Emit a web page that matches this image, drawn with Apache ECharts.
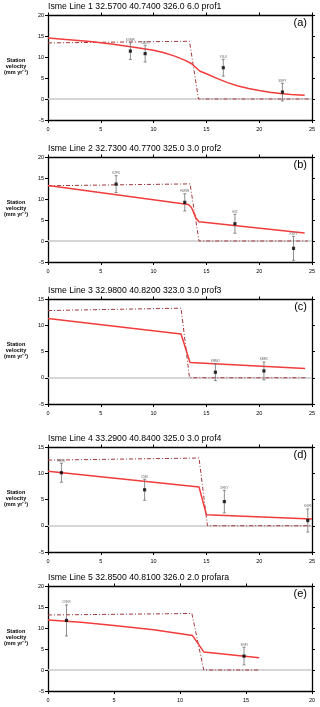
<!DOCTYPE html>
<html><head><meta charset="utf-8">
<script src="https://cdn.jsdelivr.net/npm/echarts@6/dist/echarts.min.js"></script>
<style>html,body{margin:0;padding:0;background:#fff}#c{width:320px;height:707px}</style>
</head><body><div id="c"></div>
<script>
// ---- data ----
const titles = [
  'Isme Line 1 32.5700 40.7400 326.0 6.0 prof1',
  'Isme Line 2 32.7300 40.7700 325.0 3.0 prof2',
  'Isme Line 3 32.9800 40.8200 323.0 3.0 prof3',
  'Isme Line 4 33.2900 40.8400 325.0 3.0 prof4',
  'Isme Line 5 32.8500 40.8100 326.0 2.0 profara'
];
const panelTags = ['(a)', '(b)', '(c)', '(d)', '(e)'];
const xMax = [25, 25, 25, 25, 20];
const yMin = [-5, -5, -5, -5, -5];
const yMax = [20, 20, 15, 15, 20];
const tickStep = 5;

const staName = [
  ['KSMR', 'CMKO', 'YSLK', 'SNPY'],
  ['KZPK', 'HMSR', 'IKIZ', 'KSKY'],
  ['KRMO', 'KBRC'],
  ['HMRL', 'CNKI', 'ORKY', 'KGRI'],
  ['CNKR', 'SNPI']
];
const staX = [
  [7.8, 9.2, 16.6, 22.2],
  [6.45, 12.95, 17.7, 23.25],
  [15.85, 20.45],
  [1.27, 9.15, 16.7, 24.6],
  [1.4, 14.85]
];
const staV = [
  [11.4, 10.8, 7.45, 1.65],
  [13.55, 9.2, 4.1, -1.75],
  [1.05, 1.3],
  [10.1, 6.85, 4.6, 1.0],
  [11.8, 3.3]
];
const staErr = [
  [2.0, 2.0, 2.0, 2.1],
  [2.0, 2.05, 2.25, 2.85],
  [1.6, 1.7],
  [1.8, 2.0, 2.15, 2.2],
  [3.7, 2.1]
];
const modelX = [
  [0, 2, 4, 6, 8, 10, 11, 12, 13, 13.6, 14.0, 14.4, 15, 16, 17, 18, 19, 20, 21, 22, 23, 24.3],
  [0, 13.3, 13.6, 14.0, 14.3, 24.3],
  [0, 12.6, 13.45, 24.35],
  [0, 14.3, 15.0, 25],
  [0, 2.5, 5, 8, 10.95, 11.8, 16]
];
const modelV = [
  [14.5, 14.1, 13.7, 13.1, 12.4, 11.6, 11.0, 10.2, 9.2, 8.4, 7.5, 6.6, 6.0, 4.9, 3.9, 3.1, 2.5, 2.0, 1.6, 1.3, 1.1, 0.9],
  [13.2, 8.7, 7.9, 5.5, 4.6, 1.9],
  [11.3, 8.35, 2.9, 1.75],
  [10.4, 7.4, 2.1, 1.3],
  [11.9, 11.35, 10.6, 9.6, 8.2, 4.3, 2.9]
];
const stepX = [
  [0, 13.4, 14.25, 24.7],
  [0, 13.45, 14.3, 24.6],
  [0, 12.6, 13.4, 24.5],
  [0, 14.3, 15.1, 25],
  [0, 10.9, 11.8, 16]
];
const stepV = [
  [13.35, 13.75, 0, 0],
  [13.15, 13.6, 0, 0],
  [12.8, 13.25, 0, 0],
  [12.5, 12.9, 0, 0],
  [13.1, 13.45, 0, 0]
];

// ---- layout ----
const gridTop = [15, 157, 299, 447, 586];
const gridH = 105;
const FONT = '"Liberation Sans", Arial, sans-serif';

const zip = (a, b) => a.map((v, i) => [v, b[i]]);

const option = {
  animation: false,
  backgroundColor: '#fff',
  grid: [], xAxis: [], yAxis: [], series: [], title: [], graphic: []
};

for (let p = 0; p < 5; p++) {
  const top = gridTop[p];
  option.grid.push({left: 48, right: 8, top: top, height: gridH, containLabel: false});
  const axLine = {show: true, onZero: false, lineStyle: {color: '#000', width: 1.3}};
  option.xAxis.push({
    type: 'value', gridIndex: p, position: 'bottom', min: 0, max: xMax[p], interval: tickStep,
    axisLine: axLine, axisTick: {show: true, inside: false, length: 3, lineStyle: {color: '#000'}},
    axisLabel: {show: true, margin: 6, fontSize: 5.5, color: '#000', fontFamily: FONT},
    splitLine: {show: false}
  });
  option.xAxis.push({
    type: 'value', gridIndex: p, position: 'top', min: 0, max: xMax[p], interval: tickStep,
    axisLine: axLine, axisTick: {show: true, inside: false, length: 2.5, lineStyle: {color: '#000'}},
    axisLabel: {show: false}, splitLine: {show: false}
  });
  option.yAxis.push({
    type: 'value', gridIndex: p, position: 'left', min: yMin[p], max: yMax[p], interval: tickStep,
    axisLine: axLine, axisTick: {show: true, inside: false, length: 3, lineStyle: {color: '#000'}},
    axisLabel: {show: true, margin: 4, fontSize: 5.5, color: '#000', fontFamily: FONT},
    splitLine: {show: false}
  });
  option.yAxis.push({
    type: 'value', gridIndex: p, position: 'right', min: yMin[p], max: yMax[p], interval: tickStep,
    axisLine: axLine, axisTick: {show: true, inside: false, length: 3, lineStyle: {color: '#000'}},
    axisLabel: {show: false}, splitLine: {show: false}
  });

  const xi = 2 * p, yi = 2 * p;
  // zero reference line
  option.series.push({
    type: 'line', xAxisIndex: xi, yAxisIndex: yi, data: [], z: 1, silent: true,
    markLine: {
      silent: true, symbol: ['none', 'none'], label: {show: false}, z: 1,
      lineStyle: {color: '#c8c8c8', width: 1.5, type: 'solid'},
      data: [{yAxis: 0}]
    }
  });
  // step (dash-dot) model
  option.series.push({
    type: 'line', xAxisIndex: xi, yAxisIndex: yi, z: 3, silent: true,
    data: zip(stepX[p], stepV[p]), showSymbol: false, symbol: 'none',
    lineStyle: {color: '#a3393c', width: 1, type: [4, 2, 1, 2]}
  });
  // red model curve
  option.series.push({
    type: 'line', xAxisIndex: xi, yAxisIndex: yi, z: 4, silent: true,
    data: zip(modelX[p], modelV[p]), showSymbol: false, symbol: 'none', smooth: false,
    lineStyle: {color: '#f23c3c', width: 1.5}
  });
  // error bars + station names
  const names = staName[p];
  option.series.push({
    type: 'custom', xAxisIndex: xi, yAxisIndex: yi, z: 5, silent: true,
    data: staX[p].map((x, i) => [x, staV[p][i], staErr[p][i]]),
    renderItem: (params, api) => {
      const x = api.value(0), v = api.value(1), e = api.value(2);
      const t = api.coord([x, v + e]), b = api.coord([x, v - e]);
      const cw = 1.5, st = {stroke: '#6e6e6e', lineWidth: 0.8};
      return {type: 'group', children: [
        {type: 'line', shape: {x1: t[0], y1: t[1], x2: b[0], y2: b[1]}, style: st},
        {type: 'line', shape: {x1: t[0] - cw, y1: t[1], x2: t[0] + cw, y2: t[1]}, style: st},
        {type: 'line', shape: {x1: b[0] - cw, y1: b[1], x2: b[0] + cw, y2: b[1]}, style: st},
        {type: 'text', style: {text: names[params.dataIndex], x: t[0], y: t[1] - 1,
          align: 'center', verticalAlign: 'bottom', textAlign: 'center', textVerticalAlign: 'bottom',
          fontSize: 3, fontFamily: FONT, fill: '#666'}}
      ]};
    }
  });
  // station points
  option.series.push({
    type: 'scatter', xAxisIndex: xi, yAxisIndex: yi, z: 6, silent: true,
    data: zip(staX[p], staV[p]), symbol: 'rect', symbolSize: 3.2,
    itemStyle: {color: '#000'}
  });

  option.title.push({
    text: titles[p], left: 48, top: top - 13, padding: 0,
    textStyle: {fontSize: 8.7, fontWeight: 'normal', color: '#000', fontFamily: FONT}
  });
  option.title.push({
    text: panelTags[p], right: 13, top: top + 2, padding: 0,
    textStyle: {fontSize: 11, fontWeight: 'normal', color: '#000', fontFamily: FONT}
  });
  option.graphic.push({
    type: 'text', left: 2, top: top + 42,
    style: {text: 'Station\nvelocity\n(mm yr⁻¹)', align: 'center', textAlign: 'center',
      fontSize: 5.5, fontWeight: 'bold', fontFamily: FONT, fill: '#000', lineHeight: 6.3, width: 28}
  });
}

const chart = echarts.init(document.getElementById('c'), null, {renderer: 'canvas'});
chart.setOption(option);
</script>
</body></html>
